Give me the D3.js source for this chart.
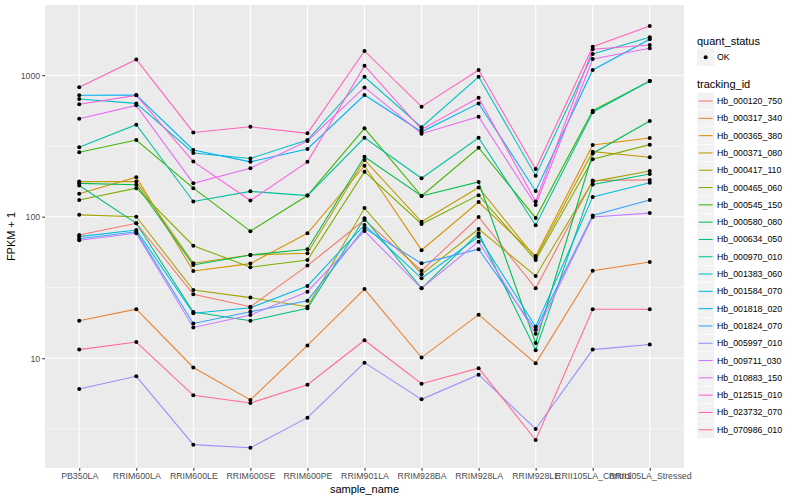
<!DOCTYPE html>
<html>
<head>
<meta charset="utf-8">
<script src="https://cdn.jsdelivr.net/npm/d3@7"></script>
<style>
    body { margin: 0; background: #fff; }
    text { font-family: "Liberation Sans", Arial, sans-serif; }
</style>
</head>
<body>
<div id="chart"></div>
<script>
const samples = ["PB350LA", "RRIM600LA", "RRIM600LE", "RRIM600SE", "RRIM600PE", "RRIM901LA",
    "RRIM928BA", "RRIM928LA", "RRIM928LE", "RRII105LA_Control", "RRII105LA_Stressed"];

const trackingIds = ["Hb_000120_750", "Hb_000317_340", "Hb_000365_380", "Hb_000371_080", "Hb_000417_110",
    "Hb_000465_060", "Hb_000545_150", "Hb_000580_080", "Hb_000634_050", "Hb_000970_010",
    "Hb_001383_060", "Hb_001584_070", "Hb_001818_020", "Hb_001824_070", "Hb_005997_010",
    "Hb_009711_030", "Hb_010883_150", "Hb_012515_010", "Hb_023732_070", "Hb_070986_010"];

// FPKM + 1, one value per sample
const hb_000120_750 = [74.3, 89.8, 28.3, 23.1, 45.1, 94.8, 41.5, 99.5, 31.2, 180, 182];
const hb_000317_340 = [18.4, 22.2, 8.6, 5.07, 12.3, 30.8, 10.1, 20.3, 9.2, 41.5, 47.9];
const hb_000365_380 = [145, 190, 41.3, 46.6, 76.4, 229, 58, 127, 52.7, 321, 360];
const hb_000371_080 = [177, 177, 46.9, 53.6, 55.1, 252, 92, 161, 51, 288, 263];
const hb_000417_110 = [103, 100, 30.3, 26.8, 23.1, 115, 39.2, 81.8, 38.1, 177, 210];
const hb_000465_060 = [131, 159, 62.4, 43.9, 49.4, 208, 88.8, 142, 49.4, 255, 323];
const hb_000545_150 = [285, 348, 159, 79, 141, 421, 140, 307, 98, 561, 910];
const hb_000580_080 = [172, 168, 45.6, 53.6, 58.9, 265, 140, 176, 12.8, 280, 474];
const hb_000634_050 = [166, 89.8, 21.2, 18.4, 22.5, 97.4, 31.2, 76.4, 11.4, 169, 200];
const hb_000970_010 = [309, 447, 128, 151, 141, 361, 187, 361, 87, 547, 910];
const hb_001383_060 = [679, 632, 282, 258, 348, 975, 429, 975, 195, 1413, 1853];
const hb_001584_070 = [72.3, 80.5, 20.8, 22.7, 32.4, 87.4, 36.7, 72.3, 16.7, 138, 174];
const hb_001818_020 = [721, 723, 296, 244, 301, 724, 398, 632, 152, 1089, 1795];
const hb_001824_070 = [69.9, 78.3, 17.6, 21.3, 25.5, 82.8, 46.8, 58.9, 15.9, 102, 131];
const hb_005997_010 = [6.06, 7.45, 2.45, 2.33, 3.8, 9.3, 5.12, 7.64, 3.16, 11.5, 12.5];
const hb_009711_030 = [68.1, 76.4, 16.5, 20.2, 29.5, 79.2, 31.2, 66.6, 14.9, 99.5, 106];
const hb_010883_150 = [493, 612, 172, 220, 343, 820, 386, 509, 121, 1301, 1549];
const hb_012515_010 = [623, 720, 245, 130, 244, 1167, 414, 693, 128, 1523, 1635];
const hb_023732_070 = [821, 1290, 394, 432, 388, 1483, 599, 1089, 217, 1589, 2229];
const hb_070986_010 = [11.5, 13.0, 5.47, 4.82, 6.5, 13.4, 6.6, 8.5, 2.64, 22.2, 22.2];

const seriesValues = [hb_000120_750, hb_000317_340, hb_000365_380, hb_000371_080, hb_000417_110,
    hb_000465_060, hb_000545_150, hb_000580_080, hb_000634_050, hb_000970_010,
    hb_001383_060, hb_001584_070, hb_001818_020, hb_001824_070, hb_005997_010,
    hb_009711_030, hb_010883_150, hb_012515_010, hb_023732_070, hb_070986_010];

const yTicks = [10, 100, 1000];
const yMinorTicks = [Math.sqrt(10), Math.sqrt(1000), Math.sqrt(100000)];

// ggplot hue palette, 20 levels
const palette = ["#F8766D", "#EA8331", "#D89000", "#C09B00", "#A3A500", "#7CAE00", "#39B600", "#00BB4E",
    "#00BF7D", "#00C1A3", "#00BFC4", "#00BAE0", "#00B0F6", "#35A2FF", "#9590FF", "#C77CFF",
    "#E76BF3", "#FA62DB", "#FF62BC", "#FF6C91"];

const width = 800, height = 500;
const panel = { left: 45, right: 684, top: 5, bottom: 468 };

const series = trackingIds.map((id, i) => ({
    id,
    values: samples.map((s, j) => ({ sample: s, value: seriesValues[i][j] }))
}));

const svg = d3.select("#chart").append("svg")
    .attr("width", width)
    .attr("height", height);

const x = d3.scalePoint()
    .domain(samples)
    .range([panel.left, panel.right])
    .padding(0.6);

const y = d3.scaleLog()
    .domain([Math.pow(10, 0.224), Math.pow(10, 3.496)])
    .range([panel.bottom, panel.top]);

const color = d3.scaleOrdinal().domain(trackingIds).range(palette);

// panel
svg.append("rect")
    .attr("x", panel.left)
    .attr("y", panel.top)
    .attr("width", panel.right - panel.left)
    .attr("height", panel.bottom - panel.top)
    .style("fill", "#EBEBEB");

const grid = svg.append("g");
grid.selectAll(".minor")
    .data(yMinorTicks)
    .enter().append("line")
    .attr("x1", panel.left).attr("x2", panel.right)
    .attr("y1", d => y(d)).attr("y2", d => y(d))
    .style("stroke", "#fff").style("stroke-width", 0.55);
grid.selectAll(".major-y")
    .data(yTicks)
    .enter().append("line")
    .attr("x1", panel.left).attr("x2", panel.right)
    .attr("y1", d => y(d)).attr("y2", d => y(d))
    .style("stroke", "#fff").style("stroke-width", 1.1);
grid.selectAll(".major-x")
    .data(samples)
    .enter().append("line")
    .attr("x1", d => x(d)).attr("x2", d => x(d))
    .attr("y1", panel.top).attr("y2", panel.bottom)
    .style("stroke", "#fff").style("stroke-width", 1.1);

// lines
const line = d3.line()
    .x(d => x(d.sample))
    .y(d => y(d.value));

svg.append("g").selectAll("path")
    .data(series)
    .enter().append("path")
    .attr("d", d => line(d.values))
    .style("fill", "none")
    .style("stroke", d => color(d.id))
    .style("stroke-width", 1.07);

// points
svg.append("g").selectAll("circle")
    .data(series.flatMap(d => d.values))
    .enter().append("circle")
    .attr("cx", d => x(d.sample))
    .attr("cy", d => y(d.value))
    .attr("r", 2)
    .style("fill", "#000");

// axes
const yAxis = svg.append("g")
    .attr("transform", `translate(${panel.left},0)`)
    .call(d3.axisLeft(y).tickValues(yTicks).tickFormat(d3.format("d")).tickSize(2.75).tickPadding(2));
const xAxis = svg.append("g")
    .attr("transform", `translate(0,${panel.bottom})`)
    .call(d3.axisBottom(x).tickSize(2.75).tickPadding(2));

[xAxis, yAxis].forEach(a => {
    a.select(".domain").remove();
    a.selectAll(".tick line").style("stroke", "#333").style("stroke-width", 1.07);
    a.selectAll(".tick text")
        .style("font-size", "8.8px")
        .style("fill", "#4D4D4D")
        .style("font-family", "Liberation Sans, Arial, sans-serif");
});

svg.append("text")
    .attr("x", (panel.left + panel.right) / 2)
    .attr("y", 493)
    .attr("text-anchor", "middle")
    .style("font-size", "11px")
    .style("fill", "#000")
    .text("sample_name");

svg.append("text")
    .attr("transform", `translate(15,${(panel.top + panel.bottom) / 2}) rotate(-90)`)
    .attr("text-anchor", "middle")
    .style("font-size", "11px")
    .style("fill", "#000")
    .text("FPKM + 1");

// legends
const legend = svg.append("g").attr("transform", "translate(697,0)");

legend.append("text")
    .attr("x", 0).attr("y", 44.5)
    .style("font-size", "11px")
    .text("quant_status");
legend.append("rect")
    .attr("x", 0).attr("y", 48.5)
    .attr("width", 17.3).attr("height", 17.3)
    .style("fill", "#F2F2F2");
legend.append("circle")
    .attr("cx", 8.65).attr("cy", 57.2).attr("r", 2)
    .style("fill", "#000");
legend.append("text")
    .attr("x", 20).attr("y", 57.2)
    .attr("dominant-baseline", "central")
    .style("font-size", "8.8px")
    .text("OK");

legend.append("text")
    .attr("x", 0).attr("y", 88)
    .style("font-size", "11px")
    .text("tracking_id");

const items = legend.selectAll(".legend-item")
    .data(trackingIds)
    .enter().append("g")
    .attr("class", "legend-item")
    .attr("transform", (d, i) => `translate(0,${92.4 + i * 17.3})`);

items.append("rect")
    .attr("width", 17.3).attr("height", 17.3)
    .style("fill", "#F2F2F2")
    .style("stroke", "#fff")
    .style("stroke-width", 0.5);
items.append("line")
    .attr("x1", 1.7).attr("x2", 15.6)
    .attr("y1", 8.65).attr("y2", 8.65)
    .style("stroke", d => color(d))
    .style("stroke-width", 1.07);
items.append("text")
    .attr("x", 20).attr("y", 8.65)
    .attr("dominant-baseline", "central")
    .style("font-size", "8.8px")
    .text(d => d);
</script>
</body>
</html>
